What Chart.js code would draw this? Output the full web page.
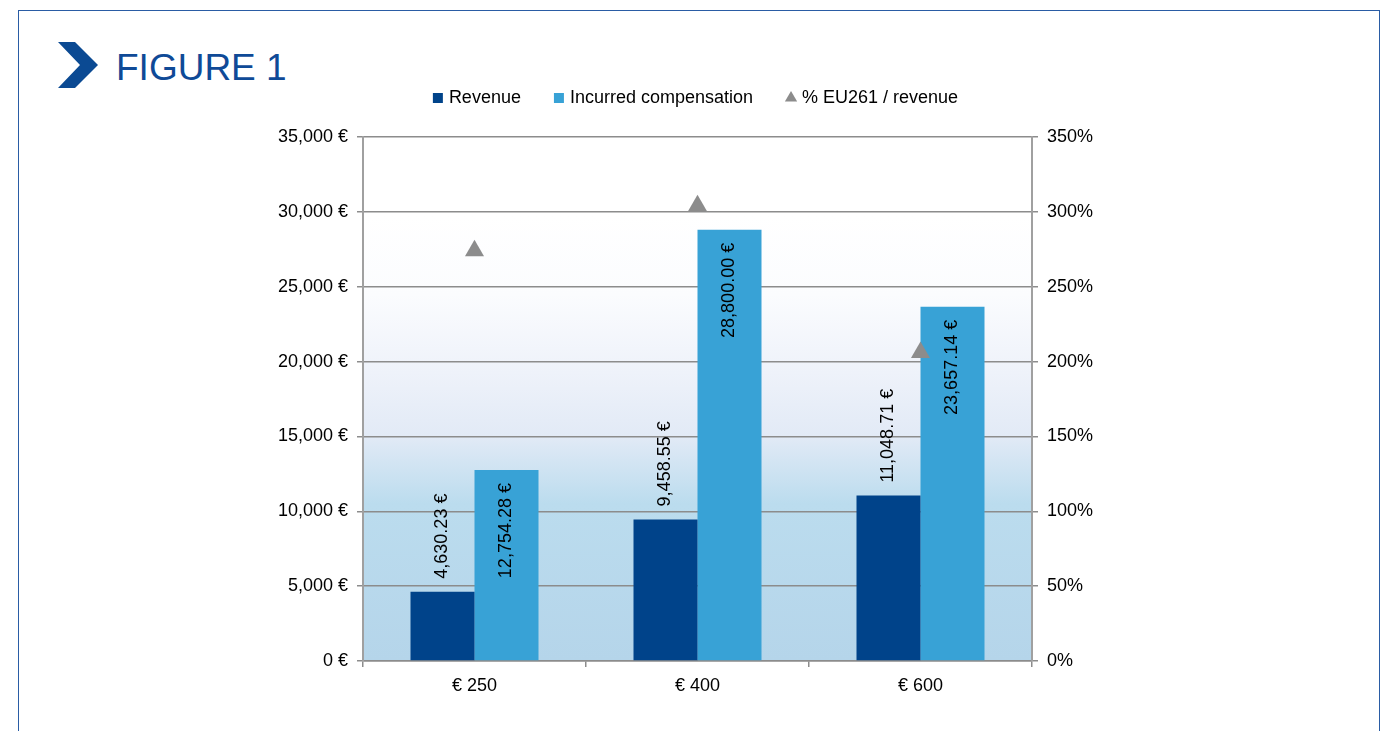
<!DOCTYPE html>
<html>
<head>
<meta charset="utf-8">
<script src="https://cdn.jsdelivr.net/npm/chart.js@4.4.1/dist/chart.umd.min.js"></script>
<style>
html,body{margin:0;padding:0;background:#fff;width:1394px;height:731px;overflow:hidden;}
#frame{position:absolute;left:18px;top:10px;width:1360px;height:780px;border:1.5px solid #2a5ca4;box-sizing:content-box;}
#chev{position:absolute;left:58px;top:42px;}
#title{position:absolute;left:116px;top:44px;font-family:'Liberation Sans',Arial,sans-serif;font-size:37px;line-height:48px;color:#0f4a97;white-space:nowrap;}
#wrap{position:absolute;left:0;top:0;width:1394px;height:731px;}
</style>
</head>
<body>
<div id="frame"></div>
<svg id="chev" width="40" height="46" viewBox="0 0 40 46"><polygon points="0,0 17,0 40,23 17,46 0,46 22,23" fill="#0b4a93"/></svg>
<div id="title">FIGURE 1</div>
<div id="wrap"><canvas id="c"></canvas></div>
<script>
// ---- data ----
const categories = ['€ 250', '€ 400', '€ 600'];
const revenue = [4630.23, 9458.55, 11048.71];
const compensation = [12754.28, 28800.00, 23657.14];
const eu261Share = [274, 304, 206]; // % EU261 / revenue
const seriesNames = ['Revenue', 'Incurred compensation', '% EU261 / revenue'];
const leftTicks = [0, 5000, 10000, 15000, 20000, 25000, 30000, 35000];
const rightTicks = [0, 50, 100, 150, 200, 250, 300, 350];

const FONT = "'Liberation Sans', Arial, sans-serif";
Chart.defaults.font.family = FONT;
Chart.defaults.font.size = 18;
Chart.defaults.color = '#000';

const fmtInt = v => v.toLocaleString('en-US') + ' €';
const fmt2 = v => v.toLocaleString('en-US', {minimumFractionDigits: 2, maximumFractionDigits: 2}) + ' €';

const plotBackground = {
  id: 'plotBackground',
  beforeDraw(chart) {
    const {ctx, chartArea: a} = chart;
    const g = ctx.createLinearGradient(0, a.top, 0, a.bottom);
    g.addColorStop(0, '#ffffff');
    g.addColorStop(0.15, '#ffffff');
    g.addColorStop(0.30, '#fbfcfe');
    g.addColorStop(0.45, '#eef2fa');
    g.addColorStop(0.57, '#e2eaf6');
    g.addColorStop(0.70, '#bbdcee');
    g.addColorStop(1, '#b5d5ea');
    ctx.save();
    ctx.fillStyle = g;
    ctx.fillRect(a.left, a.top, a.right - a.left, a.bottom - a.top);
    ctx.restore();
  }
};

const valueLabels = {
  id: 'valueLabels',
  afterDatasetsDraw(chart) {
    const ctx = chart.ctx;
    ctx.save();
    ctx.font = '18px ' + FONT;
    ctx.fillStyle = '#000';
    ctx.textBaseline = 'middle';
    [0, 1].forEach(di => {
      const meta = chart.getDatasetMeta(di);
      meta.data.forEach((bar, i) => {
        const txt = fmt2(chart.data.datasets[di].data[i]);
        ctx.save();
        ctx.translate(bar.x, di === 0 ? bar.y - 13 : bar.y + 13);
        ctx.rotate(-Math.PI / 2);
        ctx.textAlign = di === 0 ? 'left' : 'right';
        ctx.fillText(txt, 0, 0);
        ctx.restore();
      });
    });
    ctx.restore();
  }
};

const GRID = '#8c8c8c';

new Chart(document.getElementById('c'), {
  type: 'bar',
  data: {
    labels: categories,
    datasets: [
      {label: seriesNames[0], data: revenue, backgroundColor: '#00438a', borderWidth: 0, pointStyle: 'rect', yAxisID: 'y', order: 1,
       categoryPercentage: 0.574, barPercentage: 1.0},
      {label: seriesNames[1], data: compensation, backgroundColor: '#38a2d6', borderWidth: 0, pointStyle: 'rect', yAxisID: 'y', order: 1,
       categoryPercentage: 0.574, barPercentage: 1.0},
      {type: 'line', label: seriesNames[2], data: eu261Share, yAxisID: 'y1', showLine: false, order: 0,
       pointStyle: 'triangle', pointRadius: 11, pointHoverRadius: 11, backgroundColor: '#8c8c8c', borderColor: '#8c8c8c', borderWidth: 0}
    ]
  },
  options: {
    responsive: true,
    maintainAspectRatio: false,
    animation: false,
    events: [],
    layout: {padding: {top: 53, left: 0, right: 0, bottom: 0}},
    plugins: {
      tooltip: {enabled: false},
      title: {display: true, text: '', position: 'top', weight: 0, padding: 0, font: {size: 20, lineHeight: 1}},
      legend: {
        position: 'top',
        labels: {
          usePointStyle: true,
          boxWidth: 4,
          boxHeight: 10,
          padding: 36,
          color: '#000',
          font: {size: 18},
          sort: (a, b) => a.datasetIndex - b.datasetIndex
        }
      }
    },
    scales: {
      x: {
        grid: {display: true, drawOnChartArea: false, drawTicks: true, tickLength: 6, color: GRID, lineWidth: 1.5, offset: true},
        border: {color: GRID, width: 1.5},
        ticks: {color: '#000', font: {size: 18}, padding: 8},
        afterFit: s => { s.height = 70; }
      },
      y: {
        position: 'left',
        min: leftTicks[0],
        max: leftTicks[leftTicks.length - 1],
        afterBuildTicks: s => { s.ticks = leftTicks.map(v => ({value: v})); },
        ticks: {callback: v => fmtInt(v), color: '#000', font: {size: 18}, padding: 9},
        grid: {color: GRID, lineWidth: 1.5, tickLength: 6, drawTicks: true},
        border: {color: '#a0a0a0', width: 2},
        afterFit: s => { s.width = 363; }
      },
      y1: {
        position: 'right',
        min: rightTicks[0],
        max: rightTicks[rightTicks.length - 1],
        afterBuildTicks: s => { s.ticks = rightTicks.map(v => ({value: v})); },
        ticks: {callback: v => v + '%', color: '#000', font: {size: 18}, padding: 9},
        grid: {drawOnChartArea: false, color: GRID, lineWidth: 1.5, tickLength: 6, drawTicks: true},
        border: {color: '#a0a0a0', width: 2},
        afterFit: s => { s.width = 362; }
      }
    }
  },
  plugins: [plotBackground, valueLabels]
});
</script>
</body>
</html>
